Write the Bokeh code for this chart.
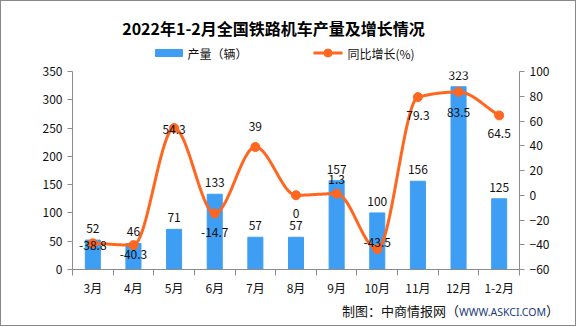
import numpy as np
from bokeh.plotting import figure
from bokeh.models import Range1d, LinearAxis, FixedTicker, ColumnDataSource, Div
from bokeh.core.properties import value
from bokeh.layouts import column
from bokeh.embed import file_html
from bokeh.resources import INLINE

title_text = "2022年1-2月全国铁路机车产量及增长情况"
series_names = ["产量（辆）", "同比增长(%)"]
source_parts = ["制图：中商情报网（", "WWW.ASKCI.COM", "）"]
months = ["3月", "4月", "5月", "6月", "7月", "8月", "9月", "10月", "11月", "12月", "1-2月"]
output = [52, 46, 71, 133, 57, 57, 157, 100, 156, 323, 125]
growth = [-38.8, -40.3, 54.3, -14.7, 39, 0, 1.3, -43.5, 79.3, 83.5, 64.5]
growth_labels = ["-38.8", "-40.3", "54.3", "-14.7", "39", "0", "1.3", "-43.5", "79.3", "83.5", "64.5"]
left_ticks = [0, 50, 100, 150, 200, 250, 300, 350]
right_ticks = [-60, -40, -20, 0, 20, 40, 60, 80, 100]

# label offsets in pixels (style; positive = down)
g_off = [2, 9, 1, 19, -20, 18, -14, -7, 18, 21, 18]

W = 574
BL, BR = 71, 56
HEAD_H, MAIN_H, FOOT_H = 60, 239, 25
FONT = "Noto Sans CJK SC"
BLUE = "#3E9EF3"
ORANGE = "#FF6620"
AX = "#8C8C8C"
TXT = "#111111"

n = len(months)
xc = [i + 0.5 for i in range(n)]

# ---------------- header (title + legend) ----------------
head = figure(width=W, height=HEAD_H, output_backend="svg", toolbar_location=None,
              x_range=Range1d(BL, W - BR), y_range=Range1d(0, HEAD_H),
              x_axis_location=None, y_axis_location=None,
              min_border_left=BL, min_border_right=BR, min_border_top=0, min_border_bottom=0)
head.grid.visible = False
head.outline_line_color = None
head.text(x=[272], y=[HEAD_H - 26.5], text=[title_text], text_align="center",
          text_baseline="middle", text_font=value(FONT), text_font_size="16px",
          text_font_style="bold", text_color="#000000")
LY = HEAD_H - 51.5
head.quad(left=[154], right=[181], bottom=[LY - 3.5], top=[LY + 3.5], color=BLUE)
head.text(x=[186], y=[LY], text=[series_names[0]], text_align="left", text_baseline="middle",
          text_font=value(FONT), text_font_size="12px", text_color=TXT)
head.segment(x0=[312], y0=[LY], x1=[341], y1=[LY], line_color=ORANGE, line_width=3)
head.scatter(x=[326.5], y=[LY], size=8, color=ORANGE)
head.text(x=[346], y=[LY], text=[series_names[1]], text_align="left", text_baseline="middle",
          text_font=value(FONT), text_font_size="12px", text_color=TXT)

# ---------------- main chart ----------------
p = figure(width=W, height=MAIN_H, output_backend="svg", toolbar_location=None,
           x_range=Range1d(0, n), y_range=Range1d(0, 350),
           min_border_left=BL, min_border_right=BR, min_border_top=10, min_border_bottom=31)
p.xgrid.visible = False
p.ygrid.visible = False
p.outline_line_color = None
p.extra_y_ranges = {"pct": Range1d(-60, 100)}

p.vbar(x=xc, top=output, width=0.37, color=BLUE)

# monotone cubic (Fritsch-Carlson) smoothing through the data points
y = np.array(growth, dtype=float)
d = np.diff(y)
m = np.zeros(n)
m[0], m[-1] = d[0], d[-1]
for k in range(1, n - 1):
    if d[k - 1] * d[k] <= 0:
        m[k] = 0.0
    else:
        m[k] = 2.0 / (1.0 / d[k - 1] + 1.0 / d[k])
lx, ly = [], []
for k in range(n - 1):
    ts = np.linspace(0, 1, 30, endpoint=(k == n - 2))
    h00 = 2 * ts**3 - 3 * ts**2 + 1
    h10 = ts**3 - 2 * ts**2 + ts
    h01 = -2 * ts**3 + 3 * ts**2
    h11 = ts**3 - ts**2
    lx.extend(xc[k] + ts)
    ly.extend(h00 * y[k] + h10 * m[k] + h01 * y[k + 1] + h11 * m[k + 1])
p.line(lx, ly, line_color=ORANGE, line_width=3, y_range_name="pct")
p.scatter(xc, growth, size=9, color=ORANGE, y_range_name="pct")

src_b = ColumnDataSource(dict(x=xc, y=output, t=[str(v) for v in output]))
p.text("x", "y", text="t", source=src_b, text_align="center", text_baseline="bottom",
       y_offset=-7, text_font_size="12px", text_color=TXT, text_font=value(FONT))

src_g = ColumnDataSource(dict(x=xc, y=growth, t=growth_labels, off=g_off))
p.text("x", "y", text="t", source=src_g, text_align="center", text_baseline="middle",
       y_offset="off", text_font_size="12px", text_color=TXT, text_font=value(FONT),
       y_range_name="pct")

xa = p.xaxis[0]
xa.ticker = FixedTicker(ticks=xc, minor_ticks=list(range(n + 1)))
xa.major_label_overrides = {x: mo for x, mo in zip(xc, months)}
xa.major_tick_line_color = None
xa.minor_tick_in = 0
xa.minor_tick_out = 6
xa.minor_tick_line_color = AX
xa.axis_line_color = AX
xa.major_label_text_font = FONT
xa.major_label_text_font_size = "12px"
xa.major_label_text_color = TXT
xa.major_label_standoff = 3

ya = p.yaxis[0]
ya.ticker = FixedTicker(ticks=left_ticks)
ya.axis_line_color = AX
ya.major_tick_line_color = AX
ya.major_tick_in = 0
ya.major_tick_out = 5
ya.minor_tick_line_color = None
ya.major_label_text_font = FONT
ya.major_label_text_font_size = "12px"
ya.major_label_text_color = TXT

ra = LinearAxis(y_range_name="pct", ticker=FixedTicker(ticks=right_ticks))
ra.axis_line_color = AX
ra.major_tick_line_color = AX
ra.major_tick_in = 0
ra.major_tick_out = 5
ra.minor_tick_line_color = None
ra.major_label_text_font = FONT
ra.major_label_text_font_size = "12px"
ra.major_label_text_color = TXT
p.add_layout(ra, "right")

# ---------------- footer (source) ----------------
foot_html = (
    '<div style="margin-left:341px;line-height:22px;white-space:nowrap;'
    "font-family:'Noto Sans CJK SC';font-size:13px;color:#111111\">"
    + source_parts[0]
    + '<span style="font-family:\'Noto Sans\';font-size:10.5px;color:#1B3A7A">'
    + source_parts[1] + "</span>" + source_parts[2] + "</div>"
)
foot = Div(text=foot_html, width=W, height=FOOT_H, margin=0)

lay = column(head, p, foot, spacing=0, styles={"border": "1px solid #888888"})
open("out.html", "w").write(file_html(lay, INLINE))
